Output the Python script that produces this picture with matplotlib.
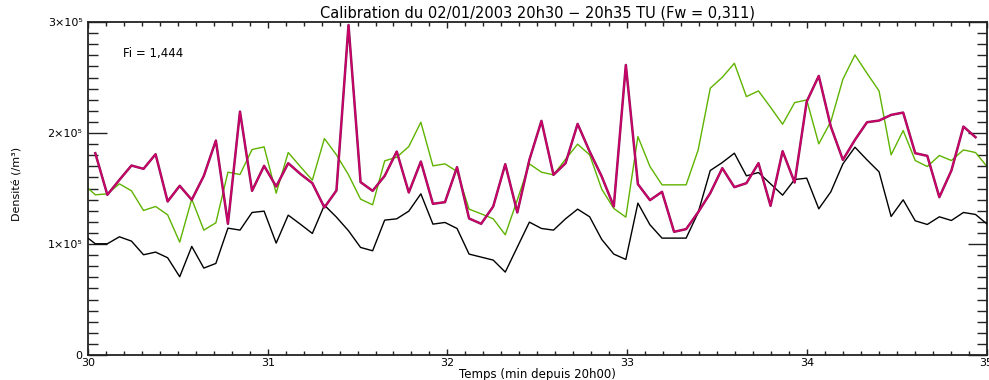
import matplotlib
matplotlib.use("Agg")
import matplotlib.pyplot as plt
import numpy as np
from matplotlib.ticker import MultipleLocator, FuncFormatter, FixedLocator
from matplotlib import font_manager

# ---- data (densities in units of 1e5 /m3) ----
t_start = 29.9735      # minutes after 20h00, first sample
t_step = 0.0671        # sampling step (min)
n_samples = 76

densite_noir = [1.086, 1.002, 1.002, 1.065, 1.026, 0.903, 0.927, 0.876, 0.705, 0.978,
                0.783, 0.825, 1.143, 1.125, 1.284, 1.296, 1.008, 1.260, 1.179, 1.095,
                1.350, 1.242, 1.119, 0.969, 0.939, 1.215,
                1.227, 1.296, 1.452, 1.179, 1.194, 1.140, 0.909, 0.882, 0.855, 0.747,
                0.972, 1.197, 1.140, 1.125, 1.227, 1.314, 1.245, 1.041, 0.909, 0.861,
                1.368, 1.173, 1.053, 1.053, 1.053,
                1.284, 1.662, 1.734, 1.818, 1.614, 1.644, 1.542, 1.440, 1.581, 1.593,
                1.317, 1.470, 1.722, 1.872, 1.758, 1.650, 1.248, 1.398, 1.209, 1.176,
                1.245, 1.212, 1.284, 1.266, 1.176]

densite_vert = [1.542, 1.443, 1.452, 1.542, 1.479, 1.302, 1.338, 1.263, 1.017, 1.404,
                1.125, 1.191, 1.647, 1.626, 1.851, 1.875, 1.458, 1.824, 1.698, 1.575,
                1.950, 1.803, 1.623, 1.404, 1.353, 1.749,
                1.782, 1.878, 2.097, 1.704, 1.722, 1.653, 1.314, 1.272, 1.227, 1.083,
                1.398, 1.722, 1.647, 1.623, 1.764, 1.899, 1.803, 1.494, 1.320, 1.242,
                1.968, 1.698, 1.533, 1.533, 1.533,
                1.848, 2.403, 2.502, 2.628, 2.328, 2.379, 2.232, 2.079, 2.274, 2.298,
                1.902, 2.103, 2.484, 2.703, 2.538, 2.379, 1.803, 2.022, 1.752, 1.698,
                1.797, 1.752, 1.848, 1.824, 1.692]

densite_rouge = [1.818, 1.443, 1.578, 1.707, 1.677, 1.809, 1.383, 1.524, 1.398, 1.614,
                 1.932, 1.182, 2.193, 1.479, 1.704, 1.518, 1.728, 1.632, 1.548, 1.329,
                 1.482, 2.973, 1.557, 1.479, 1.614,
                 1.833, 1.464, 1.743, 1.362, 1.377, 1.692, 1.230, 1.182, 1.338, 1.719,
                 1.284, 1.758, 2.109, 1.623, 1.728, 2.082, 1.833, 1.608, 1.338, 2.613,
                 1.539, 1.395, 1.470, 1.110, 1.134,
                 1.287, 1.458, 1.683, 1.512, 1.548, 1.728, 1.344, 1.836, 1.554, 2.283,
                 2.514, 2.058, 1.758, 1.938, 2.097, 2.112, 2.163, 2.184, 1.818, 1.794,
                 1.422, 1.662, 2.058, 1.962]

x_ticks = [30, 31, 32, 33, 34, 35]
y_ticks = [0, 1e5, 2e5, 3e5]
x_minor_step = 0.1
y_minor_step = 1e4

titre = "Calibration du 02/01/2003 20h30 \u2212 20h35 TU (Fw = 0,311)"
texte_fi = "Fi = 1,444"
label_x = "Temps (min depuis 20h00)"
label_y = "Densit\u00e9 (/m\u00b3)"

temps = t_start + t_step * np.arange(n_samples)
noir = np.array(densite_noir) * 1e5
vert = np.array(densite_vert) * 1e5
rouge = np.array(densite_rouge) * 1e5
temps_rouge = temps[1:1 + len(rouge)]

# ---- figure ----
W, H = 989, 380
fig = plt.figure(figsize=(W / 100, H / 100), dpi=100)
x0, x1, y0, y1 = 88, 986.5, 22, 355
ax = fig.add_axes([x0 / W, 1 - y1 / H, (x1 - x0) / W, (y1 - y0) / H])

ax.plot(temps, noir, color="black", lw=1.0, zorder=3)
ax.plot(temps, vert, color="#5fb300", lw=1.0, zorder=2)
ax.plot(temps_rouge, rouge, color="#8a1458", lw=1.8, zorder=4)
ax.plot(temps_rouge, rouge, color="#d4006a", lw=1.0, zorder=5)

ax.set_xlim(x_ticks[0], x_ticks[-1])
ax.set_ylim(y_ticks[0], y_ticks[-1])
ax.xaxis.set_major_locator(FixedLocator(x_ticks))
ax.yaxis.set_major_locator(FixedLocator(y_ticks))
ax.xaxis.set_minor_locator(MultipleLocator(x_minor_step))
ax.yaxis.set_minor_locator(MultipleLocator(y_minor_step))

sup = {"0": "\u2070", "1": "\u00b9", "2": "\u00b2", "3": "\u00b3", "4": "\u2074",
       "5": "\u2075", "6": "\u2076", "7": "\u2077", "8": "\u2078", "9": "\u2079"}


def yfmt(v, pos):
    if v == 0:
        return "0"
    e = int(np.floor(np.log10(abs(v))))
    m = v / 10 ** e
    return f"{m:g}\u00d710" + "".join(sup[c] for c in str(e))


ax.yaxis.set_major_formatter(FuncFormatter(yfmt))
ax.xaxis.set_major_formatter(FuncFormatter(lambda v, p: f"{v:g}"))

ax.tick_params(axis="both", which="both", direction="in", top=True, right=True,
               bottom=True, left=True, color="#222222", width=1.0)
ax.tick_params(axis="x", which="major", length=4.5, pad=2.5, labelsize=8)
ax.tick_params(axis="x", which="minor", length=3.0)
ax.tick_params(axis="y", which="major", length=13.5, pad=4, labelsize=8)
ax.tick_params(axis="y", which="minor", length=7.0)
for s in ax.spines.values():
    s.set_linewidth(1.3)
    s.set_color("#222222")

ax.set_title(titre, fontsize=10.5, pad=3)
ax.text((123 - x0) / (x1 - x0), (y1 - 53) / (y1 - y0), texte_fi,
        transform=ax.transAxes, ha="left", va="center", fontsize=8.5)

names = {f.name for f in font_manager.fontManager.ttflist}
yfam = "Liberation Sans Narrow" if "Liberation Sans Narrow" in names else "DejaVu Sans"
ax.set_ylabel(label_y, fontsize=8, family=yfam, ha="center", va="center",
              rotation_mode="default")
ax.yaxis.set_label_coords((18 - x0) / (x1 - x0), (y1 - 184) / (y1 - y0))
ax.set_xlabel(label_x, fontsize=8.5, va="center")
ax.xaxis.set_label_coords(0.5, (y1 - 374.5) / (y1 - y0))

fig.savefig("out.png", dpi=100)
